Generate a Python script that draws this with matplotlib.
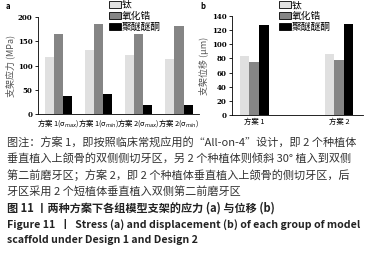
import numpy as np
import matplotlib.pyplot as plt
from matplotlib.patches import Patch

plt.rcParams['font.family'] = ['Noto Sans CJK SC', 'DejaVu Sans']

# data
materials = ['钛', '氧化锆', '聚醚醚酮']
colors = ['#e0e0e0', '#858585', '#000000']

stress_labels = ['方案 1(σ$_{max}$)', '方案 1(σ$_{min}$)', '方案 2(σ$_{max}$)', '方案 2(σ$_{min}$)']
stress_ti = [118, 132, 121, 113]
stress_zr = [164, 185, 166, 181]
stress_peek = [38, 41, 19, 18]

disp_labels = ['方案 1', '方案 2']
disp_ti = [84, 87]
disp_zr = [75, 78]
disp_peek = [127, 128]

fig = plt.figure(figsize=(3.8, 2.54), dpi=100)

def draw_panel(ax, labels, series, width, ylabel, yticks, ylim, xlim):
    x = np.arange(len(labels))
    for i, vals in enumerate(series):
        ax.bar(x + (i - 1) * width, vals, width, color=colors[i], linewidth=0)
    ax.set_xticks(x)
    ax.set_xticklabels(labels, fontsize=5.3)
    ax.tick_params(axis='x', length=0, pad=2)
    ax.set_yticks(yticks)
    ax.set_yticklabels([str(t) for t in yticks], fontsize=5, fontweight='bold',
                       family='DejaVu Serif')
    ax.tick_params(axis='y', length=2, width=0.6, pad=2)
    ax.set_ylim(*ylim)
    ax.set_xlim(*xlim)
    ax.set_ylabel(ylabel, fontsize=6.5, color='#555555', labelpad=2)
    for s in ['top', 'right']:
        ax.spines[s].set_visible(False)
    for s in ['left', 'bottom']:
        ax.spines[s].set_linewidth(0.6)
    handles = [Patch(facecolor=c, edgecolor='black', linewidth=0.6) for c in colors]
    return handles

ax_a = fig.add_axes([0.10, 0.551, 0.424, 0.382])
h = draw_panel(ax_a, stress_labels, [stress_ti, stress_zr, stress_peek], 0.225,
               '支架应力 (MPa)', [0, 50, 100, 150, 200], (0, 200), (-0.5, 3.5))
ax_a.legend(h, materials, loc='upper left', bbox_to_anchor=(0.41, 1.23), frameon=False,
            fontsize=7, handlelength=1.2, handleheight=0.7, labelspacing=0.1,
            handletextpad=0.1, borderpad=0)
ax_a.text(-0.2, 1.08, 'a', transform=ax_a.transAxes, fontsize=5.5, fontweight='bold')

ax_b = fig.add_axes([0.611, 0.547, 0.344, 0.39])
h = draw_panel(ax_b, disp_labels, [disp_ti, disp_zr, disp_peek], 0.112,
               '支架位移 (μm)', [0, 20, 40, 60, 80, 100, 120, 140], (0, 140), (-0.26, 1.28))
ax_b.legend(h, materials, loc='upper left', bbox_to_anchor=(0.32, 1.21), frameon=False,
            fontsize=7, handlelength=1.2, handleheight=0.7, labelspacing=0.1,
            handletextpad=0.1, borderpad=0)
ax_b.text(-0.24, 1.07, 'b', transform=ax_b.transAxes, fontsize=5.5, fontweight='bold')

# caption
note = ['图注：方案 1，即按照临床常规应用的“All-on-4”设计，即 2 个种植体',
        '垂直植入上颌骨的双侧侧切牙区，另 2 个种植体则倾斜 30° 植入到双侧',
        '第二前磨牙区；方案 2，即 2 个种植体垂直植入上颌骨的侧切牙区，后',
        '牙区采用 2 个短植体垂直植入双侧第二前磨牙区']
ys = [143, 159.5, 175.5, 191.5]
for line, y in zip(note, ys):
    fig.text(0.018, 1 - y / 254, line, fontsize=8, color='#333333', va='center')
fig.text(0.018, 1 - 208 / 254, '图 11 丨两种方案下各组模型支架的应力 (a) 与位移 (b)',
         fontsize=8, color='#222222', va='center', fontweight='bold')
fig.text(0.018, 1 - 224.5 / 254, 'Figure 11  丨  Stress (a) and displacement (b) of each group of model',
         fontsize=7.6, color='#222222', va='center', fontweight='bold')
fig.text(0.018, 1 - 240 / 254, 'scaffold under Design 1 and Design 2',
         fontsize=7.6, color='#222222', va='center', fontweight='bold')

fig.savefig('out.png', dpi=100)
